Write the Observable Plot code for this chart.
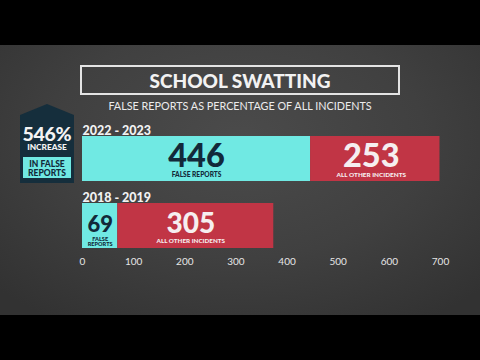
<!DOCTYPE html>
<html><head><meta charset="utf-8">
<script src="https://cdn.jsdelivr.net/npm/d3@7"></script>
<script src="https://cdn.jsdelivr.net/npm/@observablehq/plot@0.6"></script>
<style>
html,body{margin:0;padding:0;background:#000;}
#wrap{position:relative;width:480px;height:360px;overflow:hidden;background:#000;font-family:Lato,"Open Sans",sans-serif;}
#panel{position:absolute;left:0;top:45px;width:480px;height:270px;background:radial-gradient(ellipse 70% 80% at 50% 35%, #4b4b4b 0%, #404040 55%, #323232 100%);}
#titlebox{position:absolute;left:80px;top:65px;width:316px;height:26px;border:2px solid #e4e4e4;color:#f2f2f2;font-weight:900;font-size:19px;line-height:27px;text-align:center;}
#subtitle{position:absolute;left:0;top:99px;width:480px;text-align:center;color:#ececec;font-size:10.8px;line-height:13px;}
#badge{position:absolute;left:0;top:0;}
#chart{position:absolute;left:0;top:0;}
</style></head>
<body>
<div id="wrap">
  <div id="panel"></div>
  <div id="titlebox">SCHOOL SWATTING</div>
  <div id="subtitle">FALSE REPORTS AS PERCENTAGE OF ALL INCIDENTS</div>
  <svg id="badge" width="90" height="200" font-family="Lato, 'Open Sans', sans-serif">
    <polygon points="20,115 47,104 74,115 74,183 20,183" fill="#152e3c"/>
    <text x="47" y="140.5" text-anchor="middle" fill="#f4f4f4" font-size="19.5" font-weight="900" letter-spacing="-0.3">546%</text>
    <text x="47" y="150" text-anchor="middle" fill="#f4f4f4" font-size="8.3" font-weight="900">INCREASE</text>
    <rect x="23" y="157" width="48" height="21" fill="#70e9e3"/>
    <text x="47" y="166.5" text-anchor="middle" fill="#12293a" font-size="8.5" font-weight="900">IN FALSE</text>
    <text x="47" y="175.5" text-anchor="middle" fill="#12293a" font-size="8.5" font-weight="900">REPORTS</text>
  </svg>
  <div id="chart"></div>
</div>
<script>
const periods = ["2022 - 2023", "2018 - 2019"];
const categories = ["FALSE REPORTS", "ALL OTHER INCIDENTS"];
const falseReports = [446, 69];
const otherIncidents = [253, 305];
const xTicks = [0, 100, 200, 300, 400, 500, 600, 700];

const rows = [];
periods.forEach((p, i) => {
  rows.push({period: p, category: categories[0], x1: 0, x2: falseReports[i], value: falseReports[i], row: i, seg: 0});
  rows.push({period: p, category: categories[1], x1: falseReports[i], x2: falseReports[i] + otherIncidents[i], value: otherIncidents[i], row: i, seg: 1});
});
const mid = d => (d.x1 + d.x2) / 2;
const pick = (r, s) => rows.filter(d => d.row === r && d.seg === s);
const navy = "#12293a", light = "#f6eef0";

function valueText(r, s, size, spacing, dx, dy) {
  return Plot.text(pick(r, s), {x: mid, y: "period", text: "value", fill: s === 0 ? navy : light,
    fontSize: size, fontWeight: 900, letterSpacing: spacing, dx, dy});
}
function labelText(r, s, size, dx, dy, wrap) {
  return Plot.text(pick(r, s), {x: mid, y: "period",
    text: d => wrap ? d.category.replace(" ", "\n") : d.category,
    fill: s === 0 ? navy : light, fontSize: size, fontWeight: 900, lineHeight: 0.95, dx, dy});
}

const chart = Plot.plot({
  width: 480,
  height: 360,
  marginBottom: 108,
  style: {background: "transparent", color: "#e6e6e6", fontFamily: "Lato, 'Open Sans', sans-serif"},
  x: {domain: [0, 700], range: [82, 440]},
  y: {domain: periods, range: [135, 249], paddingInner: 0.3235, paddingOuter: 0, axis: null},
  color: {domain: categories, range: ["#70e9e3", "#c13545"]},
  marks: [
    Plot.barX(rows, {x1: "x1", x2: "x2", y: "period", fill: "category"}),
    valueText(0, 0, 32.5, 2, 0, -2.5),
    valueText(0, 1, 32.5, 2, -4, -2.5),
    valueText(1, 0, 22, 1, 0, -1.5),
    valueText(1, 1, 28, 1.5, -5, -1.5),
    labelText(0, 0, 6.6, 0, 16.3, false),
    labelText(0, 1, 6.4, -4, 16.3, false),
    labelText(1, 0, 5.6, 0, 15.8, true),
    labelText(1, 1, 6.3, -5, 15.2, false),
    Plot.text(periods, {x: 0, y: d => d, text: d => d, textAnchor: "start", dy: -28.5,
      fontSize: 12.5, fontWeight: 900, fill: "#f2f2f2"}),
    Plot.axisX({ticks: xTicks, tickSize: 0, tickPadding: 5.5, fontSize: 10, fill: "#e6e6e6", tickFormat: d => String(d)})
  ]
});
document.getElementById("chart").appendChild(chart);
</script>
</body></html>
